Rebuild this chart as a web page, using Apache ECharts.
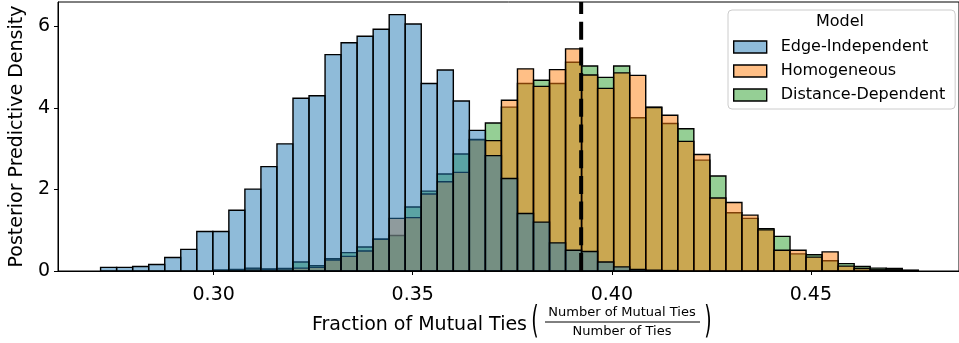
<!DOCTYPE html>
<html>
<head>
<meta charset="utf-8">
<script src="https://cdn.jsdelivr.net/npm/echarts@6/dist/echarts.min.js"></script>
<style>
  html, body { margin: 0; padding: 0; background: #ffffff; }
  #chart { width: 959px; height: 343px; }
</style>
</head>
<body>
<div id="chart"></div>
<script>
// Shared histogram bins (51 equal-width bins over the pooled samples)
const BIN_START = 0.2716;
const BIN_WIDTH = 0.004027;

// Posterior predictive density per bin, one array per model
const edgeIndependent = [
  0.09, 0.09, 0.11, 0.16, 0.33, 0.53, 0.97, 0.97, 1.49, 2.01,
  2.56, 3.12, 4.24, 4.30, 5.31, 5.60, 5.76, 5.93, 6.29, 6.06,
  4.60, 4.93, 4.17, 3.45, 2.83, 2.27, 1.41, 1.20, 0.69, 0.51,
  0.48, 0.22, 0.10, 0.04, 0.02, 0.01, 0, 0, 0, 0,
  0, 0, 0, 0, 0, 0, 0, 0, 0, 0,
  0
];
const homogeneous = [
  0, 0, 0, 0, 0, 0, 0, 0.02, 0.02, 0.05,
  0.04, 0.05, 0.07, 0.09, 0.27, 0.36, 0.49, 0.78, 1.29, 1.31,
  1.89, 2.19, 2.42, 3.22, 3.20, 4.19, 4.96, 4.53, 4.94, 5.45,
  4.81, 4.48, 4.86, 4.80, 4.01, 3.82, 3.18, 2.86, 1.79, 1.68,
  1.37, 1.01, 0.51, 0.51, 0.34, 0.47, 0.12, 0.06, 0.03, 0.03,
  0.01
];
const distanceDependent = [
  0, 0, 0, 0, 0, 0, 0, 0.02, 0.04, 0.07,
  0.05, 0.06, 0.22, 0.13, 0.30, 0.45, 0.59, 0.78, 0.87, 1.57,
  1.96, 2.38, 2.87, 3.23, 3.63, 4.02, 4.60, 4.68, 4.60, 5.12,
  5.03, 4.75, 5.03, 3.76, 4.02, 3.62, 3.49, 2.72, 2.33, 1.43,
  1.29, 1.04, 0.85, 0.42, 0.40, 0.25, 0.18, 0.11, 0.07, 0.06,
  0.02
];

// Observed statistic in the real network
const observedFraction = 0.3923;

const xTickValues = [0.30, 0.35, 0.40, 0.45];
const yTickValues = [0, 2, 4, 6];

const Y_MAX = 6.6;
const FONT = "'DejaVu Sans', 'Liberation Sans', sans-serif";
const EDGE = '#000000';
const EDGE_W = 1.4;

const FILLS = {
  'Edge-Independent': 'rgba(31,119,180,0.5)',
  'Homogeneous': 'rgba(255,127,14,0.5)',
  'Distance-Dependent': 'rgba(44,160,44,0.5)'
};

function histSeries(name, values, z) {
  const fill = FILLS[name];
  return {
    type: 'custom',
    name: name,
    z: z,
    data: values.map((v, i) => [BIN_START + i * BIN_WIDTH, BIN_START + (i + 1) * BIN_WIDTH, v]),
    encode: { x: [0, 1], y: 2 },
    itemStyle: { color: fill, borderColor: EDGE, borderWidth: EDGE_W },
    renderItem: function (params, api) {
      const h = api.value(2);
      if (!(h > 0)) return null;
      const topLeft = api.coord([api.value(0), h]);
      const bottomRight = api.coord([api.value(1), 0]);
      return {
        type: 'rect',
        shape: {
          x: topLeft[0],
          y: topLeft[1],
          width: bottomRight[0] - topLeft[0],
          height: bottomRight[1] - topLeft[1]
        },
        style: { fill: fill, stroke: EDGE, lineWidth: EDGE_W }
      };
    }
  };
}

// Vertical dashed reference line at the observed value, spanning the full plot height
const observedSeries = {
  type: 'custom',
  name: 'observed',
  z: 10,
  silent: true,
  data: [[observedFraction]],
  encode: { x: 0 },
  renderItem: function (params, api) {
    const bottom = api.coord([api.value(0), 0]);
    const top = api.coord([api.value(0), Y_MAX]);
    return {
      type: 'line',
      shape: { x1: bottom[0], y1: bottom[1], x2: top[0], y2: top[1] },
      style: { stroke: '#000', lineWidth: 4, lineDash: [18, 7.7], fill: null }
    };
  }
};

const chart = echarts.init(document.getElementById('chart'), null, { renderer: 'canvas' });

const legendItem = (name) => ({
  name: name,
  icon: 'rect',
  itemStyle: { color: FILLS[name], borderColor: EDGE, borderWidth: 1.4 }
});

const centered = { align: 'center', verticalAlign: 'middle', textAlign: 'center', textVerticalAlign: 'middle', fill: '#000' };

chart.setOption({
  animation: false,
  backgroundColor: '#ffffff',
  textStyle: { fontFamily: FONT },
  grid: {
    left: 56, right: -1, top: 2, bottom: 72,
    show: true, borderColor: '#000', borderWidth: 1, backgroundColor: 'transparent'
  },
  xAxis: {
    type: 'value',
    min: 0.2609,
    max: 0.4872,
    axisLine: { show: true, onZero: false, lineStyle: { color: '#000', width: 1 } },
    axisTick: { show: true, length: 4, inside: false, customValues: xTickValues, lineStyle: { color: '#000', width: 1 } },
    axisLabel: {
      customValues: xTickValues,
      formatter: (v) => v.toFixed(2),
      color: '#000', fontSize: 19, fontFamily: FONT, margin: 15
    },
    splitLine: { show: false }
  },
  yAxis: {
    type: 'value',
    min: 0,
    max: Y_MAX,
    name: 'Posterior Predictive Density',
    nameLocation: 'middle',
    nameGap: 30,
    nameTextStyle: { color: '#000', fontSize: 19, fontFamily: FONT },
    axisLine: { show: true, lineStyle: { color: '#000', width: 1 } },
    axisTick: { show: true, length: 4, customValues: yTickValues, lineStyle: { color: '#000', width: 1 } },
    axisLabel: {
      customValues: yTickValues,
      color: '#000', fontSize: 19, fontFamily: FONT, margin: 8
    },
    splitLine: { show: false }
  },
  legend: {
    orient: 'vertical',
    left: 728,
    top: 10,
    padding: [28, 10, 5, 5],
    itemWidth: 33,
    itemHeight: 12,
    itemGap: 6,
    backgroundColor: 'rgba(255,255,255,0.8)',
    borderColor: '#cccccc',
    borderWidth: 1,
    borderRadius: 4,
    textStyle: { color: '#000', fontSize: 16, fontFamily: FONT, lineHeight: 18, padding: [0, 0, 0, 9] },
    data: [legendItem('Edge-Independent'), legendItem('Homogeneous'), legendItem('Distance-Dependent')]
  },
  graphic: [
    {
      type: 'text', x: 840, y: 22, z: 100,
      style: Object.assign({ text: 'Model', font: '16px ' + FONT }, centered)
    },
    {
      type: 'text', x: 527, y: 325,
      style: { text: 'Fraction of Mutual Ties', font: '19px ' + FONT, fill: '#000', align: 'right', verticalAlign: 'middle', textAlign: 'right', textVerticalAlign: 'middle' }
    },
    {
      type: 'text', x: 535, y: 322, scaleY: 1.95,
      style: Object.assign({ text: '(', font: '19px ' + FONT }, centered)
    },
    {
      type: 'text', x: 622, y: 313,
      style: Object.assign({ text: 'Number of Mutual Ties', font: '13px ' + FONT }, centered)
    },
    {
      type: 'line',
      shape: { x1: 545, y1: 322, x2: 700, y2: 322 },
      style: { stroke: '#000', lineWidth: 1 }
    },
    {
      type: 'text', x: 622, y: 332,
      style: Object.assign({ text: 'Number of Ties', font: '13px ' + FONT }, centered)
    },
    {
      type: 'text', x: 708, y: 322, scaleY: 1.95,
      style: Object.assign({ text: ')', font: '19px ' + FONT }, centered)
    }
  ],
  series: [
    histSeries('Distance-Dependent', distanceDependent, 2),
    histSeries('Homogeneous', homogeneous, 3),
    histSeries('Edge-Independent', edgeIndependent, 4),
    observedSeries
  ]
});
</script>
</body>
</html>
